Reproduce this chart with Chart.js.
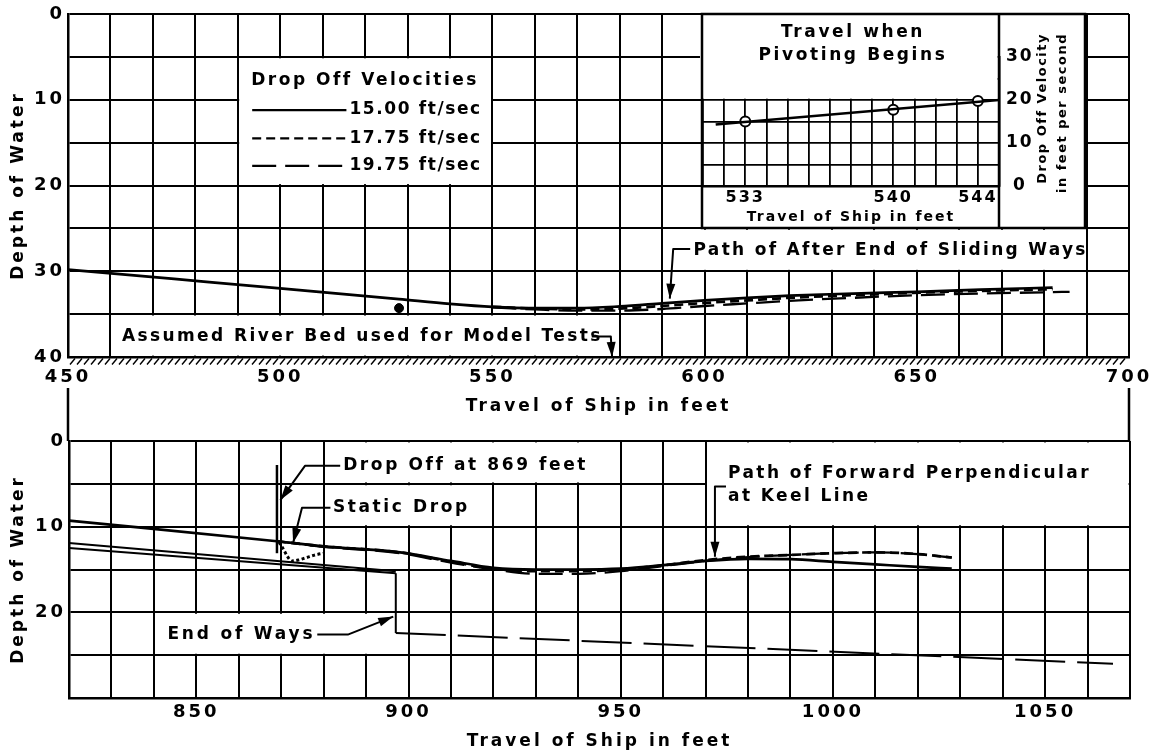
<!DOCTYPE html>
<html>
<head>
<meta charset="utf-8">
<title>Launching path: depth of water against travel of ship</title>
<script src="https://cdn.jsdelivr.net/npm/chart.js@4.4.1/dist/chart.umd.min.js"></script>
<style>
  html, body { margin: 0; padding: 0; background: #fff; }
  #sheet { position: relative; width: 1159px; height: 753px; background: #fff; overflow: hidden; }
  #sheet canvas { position: absolute; }
  #upper { left: 0; top: 0; }
  #lower { left: 0; top: 420px; }
  #pivot { left: 696px; top: 12px; }
</style>
</head>
<body>
<div id="sheet">
  <canvas id="upper" width="1159" height="441"></canvas>
  <canvas id="lower" width="1159" height="333"></canvas>
  <canvas id="pivot" width="392" height="218"></canvas>
</div>
<script>
const FONT = "'DejaVu Sans', 'Liberation Sans', sans-serif";
const INK = '#000';

// ---- Upper plot: path of after end of sliding ways (travel ft / depth ft) ----
const upperTravelTicks = [450, 500, 550, 600, 650, 700];
const upperDepthTicks = [0, 10, 20, 30, 40];
const aftTravel1500 = [450, 475, 500, 528, 540, 550, 560, 570, 580, 590, 600, 610, 620, 635, 650, 665, 682];
const aftDepth1500  = [29.8, 30.9, 32.0, 33.25, 33.8, 34.15, 34.3, 34.3, 34.1, 33.75, 33.4, 33.1, 32.85, 32.6, 32.4, 32.15, 31.9];
const aftTravel1775 = [550, 560, 570, 580, 590, 600, 610, 620, 640, 660, 682];
const aftDepth1775  = [34.15, 34.35, 34.45, 34.35, 34.05, 33.7, 33.4, 33.1, 32.7, 32.35, 32.1];
const aftTravel1975 = [550, 560, 570, 580, 590, 600, 610, 620, 635, 650, 665, 686];
const aftDepth1975  = [34.2, 34.45, 34.6, 34.6, 34.4, 34.05, 33.75, 33.45, 33.1, 32.8, 32.6, 32.4];
const pivotMarkTravel = [528];
const pivotMarkDepth  = [34.3];

// ---- Lower plot: path of forward perpendicular at keel line ----
const lowerTravelTicks = [850, 900, 950, 1000, 1050];
const lowerDepthTicks = [0, 10, 20];
const fwdTravel1500 = [820, 869, 880, 898, 910, 920, 930, 940, 950, 960, 970, 980, 990, 1000, 1010, 1020, 1028];
const fwdDepth1500  = [9.3, 11.7, 12.3, 13.0, 14.0, 14.8, 15.0, 15.0, 14.9, 14.5, 14.0, 13.75, 13.8, 14.1, 14.4, 14.7, 14.9];
const fwdTravel1775 = [869, 880, 898, 910, 920, 930, 940, 950, 960, 970, 980, 990, 1000, 1010, 1020, 1028];
const fwdDepth1775  = [11.7, 12.3, 13.0, 14.1, 14.9, 15.2, 15.2, 15.0, 14.5, 13.9, 13.5, 13.3, 13.1, 13.0, 13.2, 13.6];
const fwdTravel1975 = [869, 880, 898, 910, 920, 930, 940, 950, 960, 970, 980, 990, 1000, 1010, 1020, 1028];
const fwdDepth1975  = [11.7, 12.35, 13.1, 14.2, 15.0, 15.5, 15.5, 15.2, 14.6, 14.0, 13.55, 13.3, 13.1, 13.0, 13.2, 13.6];
const staticTravel = [869.5, 870.5, 871.5, 872.5, 874, 876, 878, 880];
const staticDepth  = [11.8, 12.6, 13.5, 14.0, 13.9, 13.6, 13.3, 13.1];
const waysTravel = [820, 897];
const waysUpperDepth = [11.9, 15.2];
const waysLowerDepth = [12.5, 15.45];
const endTravel = [897, 897, 1066];
const endDepth  = [15.45, 22.4, 26.0];

// ---- Inset: travel when pivoting begins ----
const pivotTravelTicks = [533, 540, 544];
const pivotVelocityTicks = [0, 10, 20, 30];
const pivotTravel = [533, 540, 544];
const pivotVelocity = [15.00, 17.75, 19.75];
const pivotFitTravel = [531.6, 545];
const pivotFitVelocity = [14.3, 20.0];

const pts = (xs, ys) => xs.map((x, i) => ({ x, y: ys[i] }));
const only = list => v => list.includes(Math.round(v)) ? String(Math.round(v)) : '';

const DASH_1775 = [9, 5];
const DASH_1975 = [24, 9];

function series(xs, ys, dash, extra = {}) {
  return Object.assign({
    data: pts(xs, ys), borderColor: INK, borderWidth: 2.7, borderDash: dash,
    pointRadius: 0, fill: false, cubicInterpolationMode: 'monotone'
  }, extra);
}

// ---- drawing helpers for the lettered notes ----
const px = (c, v) => c.scales.x.getPixelForValue(v);
const py = (c, v) => c.scales.y.getPixelForValue(v);

function clearCell(c, x0, x1, y0, y1) {
  const l = px(c, x0), r = px(c, x1), t = py(c, y0), b = py(c, y1);
  const ctx = c.ctx;
  ctx.save();
  ctx.fillStyle = '#fff';
  ctx.fillRect(Math.min(l, r) + 1.4, Math.min(t, b) + 1.4, Math.abs(r - l) - 2.8, Math.abs(b - t) - 2.8);
  ctx.restore();
}

function note(c, text, x, y, o = {}) {
  const ctx = c.ctx;
  ctx.save();
  ctx.font = `bold ${o.size || 17}px ${FONT}`;
  ctx.letterSpacing = (o.spacing ?? 2.5) + 'px';
  ctx.fillStyle = INK;
  ctx.textAlign = o.align || 'left';
  ctx.textBaseline = 'middle';
  ctx.fillText(text, px(c, x), py(c, y));
  ctx.restore();
}

function pointer(c, path) {
  const ctx = c.ctx;
  const p = path.map(([x, y]) => [px(c, x), py(c, y)]);
  ctx.save();
  ctx.strokeStyle = INK; ctx.fillStyle = INK; ctx.lineWidth = 2; ctx.lineJoin = 'round';
  ctx.beginPath();
  ctx.moveTo(p[0][0], p[0][1]);
  for (let i = 1; i < p.length; i++) ctx.lineTo(p[i][0], p[i][1]);
  ctx.stroke();
  const [tx, ty] = p[p.length - 1], [sx, sy] = p[p.length - 2];
  const a = Math.atan2(ty - sy, tx - sx), L = 15, W = 4.5;
  ctx.beginPath();
  ctx.moveTo(tx, ty);
  ctx.lineTo(tx - L * Math.cos(a) + W * Math.sin(a), ty - L * Math.sin(a) - W * Math.cos(a));
  ctx.lineTo(tx - L * Math.cos(a) - W * Math.sin(a), ty - L * Math.sin(a) + W * Math.cos(a));
  ctx.closePath();
  ctx.fill();
  ctx.restore();
}

function segment(c, x0, y0, x1, y1, width, dash) {
  const ctx = c.ctx;
  ctx.save();
  ctx.strokeStyle = INK; ctx.lineWidth = width; ctx.setLineDash(dash || []);
  ctx.beginPath();
  ctx.moveTo(px(c, x0), py(c, y0));
  ctx.lineTo(px(c, x1), py(c, y1));
  ctx.stroke();
  ctx.restore();
}

const tickFont = { family: FONT, size: 18, weight: 'bold' };
const titleFont = { family: FONT, size: 17, weight: 'bold' };

function travelAxis(min, max, labels, height, tickPad, titlePad) {
  return {
    type: 'linear', min, max,
    afterFit: s => { s.height = height; },
    ticks: { stepSize: 10, autoSkip: false, maxRotation: 0, minRotation: 0, padding: tickPad,
             color: INK, font: tickFont, callback: only(labels) },
    grid: { color: INK, lineWidth: 2, drawTicks: false },
    border: { color: INK, width: 2.5 },
    title: { display: true, text: 'Travel of Ship in feet', color: INK, font: titleFont,
             padding: { top: 0, bottom: titlePad } }
  };
}

function depthAxis(max, labels) {
  return {
    type: 'linear', min: 0, max, reverse: true,
    afterFit: s => { s.width = s.chart.options.layout.padding.axis; },
    ticks: { stepSize: 5, autoSkip: false, padding: 3, color: INK, font: tickFont, callback: only(labels) },
    grid: { color: INK, lineWidth: 2, drawTicks: false },
    border: { color: INK, width: 2.5 },
    title: { display: true, text: 'Depth of Water', color: INK, font: titleFont,
             padding: { top: 8, bottom: 0 } }
  };
}

const common = {
  responsive: false, animation: false, devicePixelRatio: 1, events: [],
  plugins: { legend: { display: false }, tooltip: { enabled: false } }
};

// ---- upper plot ----
const upperNotes = {
  id: 'upperNotes',
  beforeDraw(c) { c.ctx.letterSpacing = '3px'; },
  beforeDatasetsDraw(c) {
    clearCell(c, 490, 550, 5, 20);
    clearCell(c, 590, 690, 25, 30);
    clearCell(c, 460, 580, 35, 40);
  },
  afterDatasetsDraw(c) {
    // velocity key
    note(c, 'Drop Off Velocities', 520, 7.8, { align: 'center' });
    const rows = [['15.00 ft/sec', 11.2, []], ['17.75 ft/sec', 14.5, DASH_1775], ['19.75 ft/sec', 17.7, DASH_1975]];
    rows.forEach(([txt, y, dash]) => {
      segment(c, 493.4, y, 515.6, y, 2.2, dash);
      note(c, txt, 516.3, y, { spacing: 1.6 });
    });
    note(c, 'Path of After End of Sliding Ways', 597.4, 27.6, { spacing: 2.3 });
    pointer(c, [[596.6, 27.4], [592.6, 27.4], [591.8, 33.2]]);
    note(c, 'Assumed River Bed used for Model Tests', 462.7, 37.6, { spacing: 2.4 });
    pointer(c, [[573.4, 37.6], [577.9, 37.6], [578.2, 40]]);
  },
  afterDraw(c) {
    const { ctx, chartArea: a } = c;
    ctx.save();
    ctx.strokeStyle = INK;
    // river-bed hatching under the lower edge
    ctx.lineWidth = 1.4;
    ctx.beginPath();
    for (let x = a.left + 2; x < a.right - 3; x += 7) {
      ctx.moveTo(x, a.bottom + 7.5);
      ctx.lineTo(x + 5, a.bottom + 1.5);
    }
    ctx.stroke();
    // frame edges running down to the lower plot
    ctx.lineWidth = 2.5;
    ctx.beginPath();
    ctx.moveTo(a.left, 388); ctx.lineTo(a.left, 441);
    ctx.moveTo(a.right, 388); ctx.lineTo(a.right, 441);
    ctx.stroke();
    ctx.restore();
  }
};

new Chart(document.getElementById('upper'), {
  type: 'line',
  data: {
    datasets: [
      series(aftTravel1500, aftDepth1500, []),
      series(aftTravel1775, aftDepth1775, DASH_1775),
      series(aftTravel1975, aftDepth1975, DASH_1975, { borderWidth: 2.3 }),
      { data: pts(pivotMarkTravel, pivotMarkDepth), showLine: false, pointRadius: 4.5,
        pointBackgroundColor: INK, pointBorderColor: INK }
    ]
  },
  options: Object.assign({}, common, {
    layout: { padding: { left: 0, top: 14, right: 30, bottom: 20, axis: 68 } },
    scales: {
      x: travelAxis(450, 700, upperTravelTicks, 64, 10, 4),
      y: depthAxis(40, upperDepthTicks)
    }
  }),
  plugins: [upperNotes]
});

// ---- lower plot ----
const lowerNotes = {
  id: 'lowerNotes',
  beforeDraw(c) { c.ctx.letterSpacing = '3px'; },
  beforeDatasetsDraw(c) {
    clearCell(c, 880, 950, 0, 5);
    clearCell(c, 880, 920, 5, 10);
    clearCell(c, 970, 1070, 0, 10);
    clearCell(c, 840, 900, 20, 25);
  },
  afterDatasetsDraw(c) {
    segment(c, 869, 2.8, 869, 13.1, 2.5);
    note(c, 'Drop Off at 869 feet', 884.6, 2.9, { spacing: 2.6 });
    pointer(c, [[883.9, 2.9], [875.6, 2.9], [869.8, 6.9]]);
    note(c, 'Static Drop', 882.2, 7.8, { spacing: 2.6 });
    pointer(c, [[881.6, 7.8], [874.9, 7.8], [872.8, 11.9]]);
    note(c, 'Path of Forward Perpendicular', 975.3, 3.85, { spacing: 2.4 });
    note(c, 'at Keel Line', 975.3, 6.5, { spacing: 2.4 });
    pointer(c, [[974.8, 5.3], [972.2, 5.3], [972.2, 13.5]]);
    note(c, 'End of Ways', 843.2, 22.6, { spacing: 2.8 });
    pointer(c, [[878.5, 22.6], [885.7, 22.6], [896.4, 20.5]]);
  }
};

new Chart(document.getElementById('lower'), {
  type: 'line',
  data: {
    datasets: [
      series(fwdTravel1500, fwdDepth1500, []),
      series(fwdTravel1775, fwdDepth1775, DASH_1775),
      series(fwdTravel1975, fwdDepth1975, DASH_1975, { borderWidth: 2.3 }),
      series(staticTravel, staticDepth, [3, 2.5], { borderWidth: 3 }),
      series(waysTravel, waysUpperDepth, [], { borderWidth: 2, cubicInterpolationMode: 'default' }),
      series(waysTravel, waysLowerDepth, [], { borderWidth: 2, cubicInterpolationMode: 'default' }),
      series(endTravel, endDepth, [], {
        borderWidth: 2, cubicInterpolationMode: 'default',
        segment: { borderDash: s => s.p0DataIndex === 0 ? [] : [50, 12] }
      })
    ]
  },
  options: Object.assign({}, common, {
    layout: { padding: { left: 0, top: 21, right: 29, bottom: 0, axis: 69 } },
    scales: {
      x: travelAxis(820, 1070, lowerTravelTicks, 55, 4, 1),
      y: depthAxis(30, lowerDepthTicks)
    }
  }),
  plugins: [lowerNotes]
});

// ---- inset: travel when pivoting begins ----
// the frame is laid out from the chart area so it always hugs the plotting grid
const insetFrame = c => ({ x: c.chartArea.left - 1, y: 2, w: 383, h: 214 });

const pivotNotes = {
  id: 'pivotNotes',
  beforeDraw(c) {
    const ctx = c.ctx, f = insetFrame(c);
    ctx.letterSpacing = '2px';
    ctx.save();
    ctx.fillStyle = '#fff';
    ctx.fillRect(f.x, f.y, f.w, f.h);
    ctx.restore();
  },
  beforeDatasetsDraw(c) {
    // the plotting grid only covers 0-20 ft/sec; the band above holds the heading
    const { ctx, chartArea: a } = c;
    const y20 = c.scales.y.getPixelForValue(20);
    ctx.save();
    ctx.fillStyle = '#fff';
    ctx.fillRect(a.left - 3, a.top - 4, a.right - a.left + 1.6, y20 - a.top + 4 - 1.3);
    ctx.restore();
  },
  afterDraw(c) {
    const { ctx, chartArea: a } = c;
    const f = insetFrame(c);
    ctx.save();
    ctx.strokeStyle = INK;
    ctx.lineWidth = 2.5;
    ctx.strokeRect(f.x, f.y, f.w, f.h);
    ctx.beginPath();
    ctx.moveTo(a.right, f.y); ctx.lineTo(a.right, f.y + f.h);
    ctx.stroke();
    ctx.fillStyle = INK;
    ctx.textBaseline = 'middle';
    ctx.textAlign = 'center';
    ctx.font = `bold 17px ${FONT}`;
    ctx.letterSpacing = '2.6px';
    const cx = (a.left + a.right) / 2 + 2;
    ctx.fillText('Travel when', cx, 21);
    ctx.fillText('Pivoting Begins', cx, 44);
    ctx.font = `bold 13px ${FONT}`;
    ctx.letterSpacing = '1.5px';
    ctx.textAlign = 'right';
    [['Drop Off Velocity', a.right + 44], ['in feet per second', a.right + 64]].forEach(([t, x]) => {
      ctx.save();
      ctx.translate(x, 21);
      ctx.rotate(-Math.PI / 2);
      ctx.fillText(t, 0, 0);
      ctx.restore();
    });
    ctx.restore();
  }
};

new Chart(document.getElementById('pivot'), {
  type: 'line',
  data: {
    datasets: [
      { data: pts(pivotFitTravel, pivotFitVelocity), borderColor: INK, borderWidth: 2.5, pointRadius: 0 },
      { data: pts(pivotTravel, pivotVelocity), showLine: false, pointRadius: 5,
        pointBackgroundColor: '#fff', pointBorderColor: INK, pointBorderWidth: 2 }
    ]
  },
  options: Object.assign({}, common, {
    layout: { padding: { left: 0, top: 45, right: 0, bottom: 0 } },
    scales: {
      x: {
        type: 'linear', min: 531, max: 545,
        afterFit: s => { s.height = 44; },
        ticks: { stepSize: 1, autoSkip: false, maxRotation: 0, minRotation: 0, padding: 2, color: INK,
                 font: { family: FONT, size: 16, weight: 'bold' }, callback: only(pivotTravelTicks) },
        grid: { color: INK, lineWidth: 1.8, drawTicks: false },
        border: { color: INK, width: 2.5 },
        title: { display: true, text: 'Travel of Ship in feet', color: INK,
                 font: { family: FONT, size: 14, weight: 'bold' }, padding: { top: 0, bottom: 4 } }
      },
      y: {
        type: 'linear', position: 'right', min: 0, max: 30,
        afterFit: s => { s.width = 89; },
        ticks: { stepSize: 5, autoSkip: false, crossAlign: 'center', padding: 9, color: INK,
                 font: { family: FONT, size: 17, weight: 'bold' }, callback: only(pivotVelocityTicks) },
        grid: { color: INK, lineWidth: 1.8, drawTicks: false },
        border: { color: INK, width: 2.5 }
      }
    }
  }),
  plugins: [pivotNotes]
});
</script>
</body>
</html>
